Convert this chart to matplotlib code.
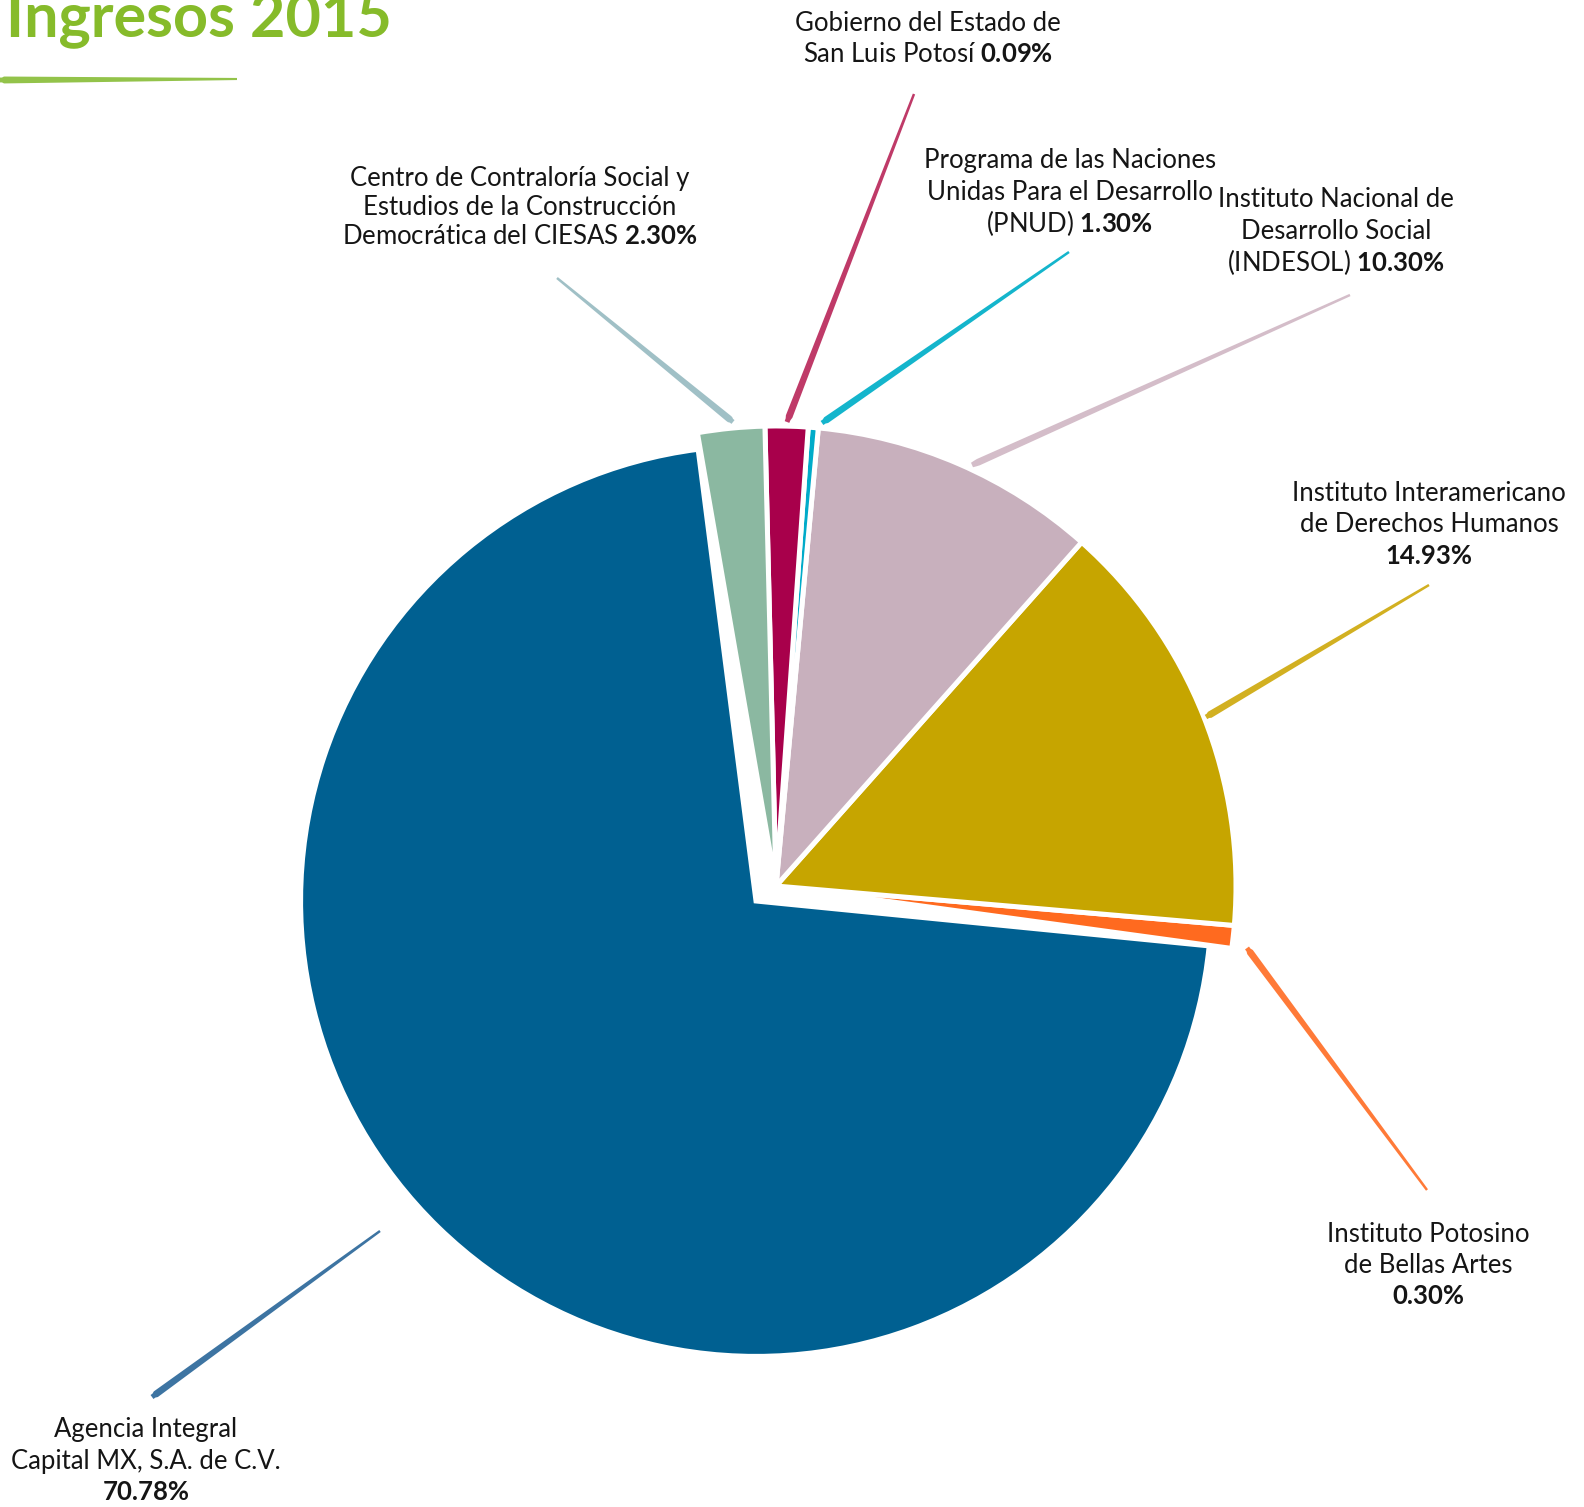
'''
Ingresos 2015 - pie chart with hand-drawn style leader lines
'''
import matplotlib
matplotlib.use('Agg')
import matplotlib.pyplot as plt
import numpy as np

W, H = 1584, 1507

plt.rcParams['font.family'] = ['Lato', 'DejaVu Sans']
plt.rcParams['mathtext.fontset'] = 'custom'
plt.rcParams['mathtext.rm'] = 'Lato'
plt.rcParams['mathtext.bf'] = 'Lato:bold'

# slices, counterclockwise from the lower right of the pie
shares = [0.8, 14.8, 10.1, 0.35, 1.5, 2.35, 71.4]   # share of the circle as drawn
pct_text = ['0.30%', '14.93%', '10.30%', '1.30%', '0.09%', '2.30%', '70.78%']
label_lines = [
    ['Instituto Potosino', 'de Bellas Artes', None],
    ['Instituto Interamericano', 'de Derechos Humanos', None],
    ['Instituto Nacional de', 'Desarrollo Social', '(INDESOL)'],
    ['Programa de las Naciones', 'Unidas Para el Desarrollo', '(PNUD)'],
    ['Gobierno del Estado de', 'San Luis Potosí'],
    ['Centro de Contraloría Social y', 'Estudios de la Construcción',
     'Democrática del CIESAS'],
    ['Agencia Integral', 'Capital MX, S.A. de C.V.', None],
]
slice_colors = ['#ff6a1f', '#c6a500', '#c8b0bd', '#00abc9', '#a8004b',
                '#8bb8a1', '#006091']
line_colors = ['#ff7a38', '#d2b021', '#d4bdc9', '#14b5cc', '#bf3a68',
               '#a0c0c6', '#3d74a2']

# layout in picture pixels (y downwards)
label_pos = [(1428, 1242, 31), (1429, 501, 31.5), (1336, 207, 32),
             (1070, 168, 32), (928, 31, 31), (520, 186, 29),
             (146, 1437, 31.5)]
leaders = [((1247, 948), (1427, 1190)), ((1206, 717), (1429, 585)),
           ((972, 465), (1350, 295)), ((822, 423), (1069, 252)),
           ((787, 422), (914, 94)), ((733, 422), (557, 278)),
           ((152, 1397), (380, 1231))]

fig = plt.figure(figsize=(W / 100, H / 100), dpi=100)

# pie axes: one data unit = pie radius
R, cx, cy = 460, 776, H - 886
pie_ax = fig.add_axes([(cx - 1.3 * R) / W, (cy - 1.3 * R) / H,
                       2.6 * R / W, 2.6 * R / H])
edge = dict(edgecolor='white', linewidth=3.6)

# the big slice is pulled away from the others towards the lower left
big = shares[-1]
wedges, _ = pie_ax.pie([big, 100 - big], colors=[slice_colors[-1], 'none'],
                       startangle=97.3, radius=0.99, center=(-0.0435, -0.0326),
                       wedgeprops=edge)
wedges[1].set_visible(False)

small = shares[:-1]
wedges, _ = pie_ax.pie(small + [100 - sum(small)],
                       colors=slice_colors[:-1] + ['none'],
                       startangle=-7.8, wedgeprops=edge)
wedges[-1].set_visible(False)

pie_ax.set_xlim(-1.3, 1.3)
pie_ax.set_ylim(-1.3, 1.3)
pie_ax.set_aspect('auto')
pie_ax.axis('off')

ax = fig.add_axes([0, 0, 1, 1])
ax.set_xlim(0, W)
ax.set_ylim(0, H)
ax.patch.set_alpha(0)
ax.axis('off')


def brush(p0, p1, color, width, end=0.35):
    # tapered stroke from a thick start to a thin end
    x0, y0 = p0[0], H - p0[1]
    x1, y1 = p1[0], H - p1[1]
    t = np.linspace(0, 1, 120)
    xs = x0 + (x1 - x0) * t
    ys = y0 + (y1 - y0) * t
    length = np.hypot(x1 - x0, y1 - y0)
    nx, ny = -(y1 - y0) / length, (x1 - x0) / length
    half = width / 2 * (1 - (1 - end) * t)
    half = half * np.clip(t * length / 4, 0.7, 1)
    px = np.r_[xs + nx * half, (xs - nx * half)[::-1]]
    py = np.r_[ys + ny * half, (ys - ny * half)[::-1]]
    ax.fill(px, py, color=color, lw=0)


for (p0, p1), col in zip(leaders, line_colors):
    brush(p0, p1, col, 7)

# labels
fs = 18.5
for lines, pct, (lx, ly, gap) in zip(label_lines, pct_text, label_pos):
    for i, line in enumerate(lines):
        y = H - (ly + i * gap)
        last = i == len(lines) - 1
        if line is None:
            ax.text(lx, y, pct, ha='center', va='baseline', fontsize=fs,
                    fontweight='bold', color='#151515')
        elif last:
            txt = line + ' $\\mathbf{' + pct.replace('%', '\\%') + '}$'
            ax.text(lx, y, txt, ha='center', va='baseline', fontsize=fs,
                    color='#151515')
        else:
            ax.text(lx, y, line, ha='center', va='baseline', fontsize=fs,
                    color='#151515')

# title and its brush underline
ax.text(6, H - 36, 'Ingresos 2015', ha='left', va='baseline', fontsize=44,
        fontweight='bold', color='#86bb2a')
brush((0, 80), (237, 79), '#93c34a', 7, end=0.3)

fig.savefig('out.png', dpi=100)
